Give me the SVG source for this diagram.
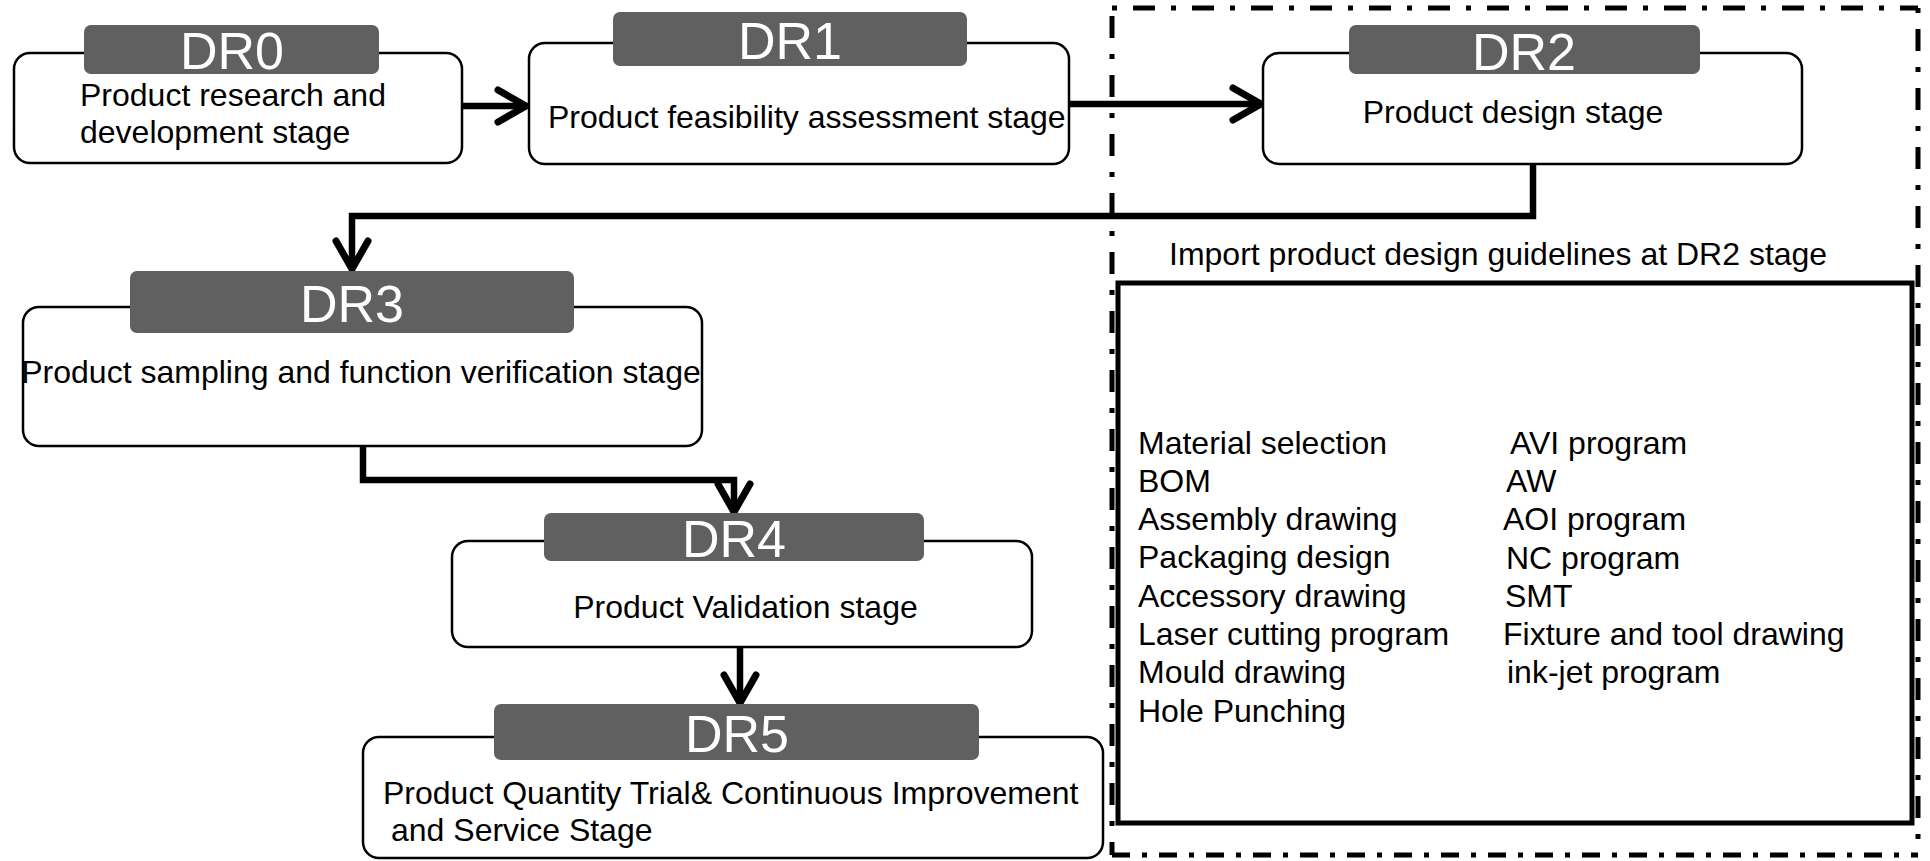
<svg xmlns="http://www.w3.org/2000/svg" width="1930" height="861" viewBox="0 0 1930 861">
<style>
.box{fill:#fff;stroke:#000;stroke-width:2.5}
.hdr{fill:#606060}
.lbl{font-family:"Liberation Sans",Arial,sans-serif;font-size:52px;fill:#fff;text-anchor:middle}
.t{font-family:"Liberation Sans",Arial,sans-serif;font-size:32px;fill:#000}
.mid{text-anchor:middle}
.conn{fill:none;stroke:#000;stroke-width:6.5;stroke-linejoin:miter}
.dd{fill:none;stroke:#000;stroke-width:5}
</style>
<defs>
<marker id="chev" markerUnits="userSpaceOnUse" markerWidth="40" markerHeight="40" viewBox="-34 -20 40 40" refX="0" refY="0" orient="auto" overflow="visible">
<path d="M-29,-16 L-1,0 L-29,16" fill="none" stroke="#000" stroke-width="7" stroke-linecap="round" stroke-linejoin="round"/>
</marker>
</defs>
<rect width="1930" height="861" fill="#fff"/>

<g id="dr2-frame">
<line class="dd" x1="1112" y1="8" x2="1918" y2="8" stroke-dasharray="5 16 22 16"/>
<line class="dd" x1="1918" y1="8" x2="1918" y2="855" stroke-dasharray="5 16 22 16"/>
<line class="dd" x1="1112" y1="8" x2="1112" y2="855" stroke-dasharray="22 16 5 16" stroke-dashoffset="-8"/>
<line class="dd" x1="1112" y1="855" x2="1918" y2="855" stroke-dasharray="18 12 5 12"/>
</g>

<g id="connectors">
<path class="conn" d="M462,106 L527,106" marker-end="url(#chev)"/>
<path class="conn" d="M1069,104 L1262,104" marker-end="url(#chev)"/>
<path class="conn" d="M1533,164 V216 H352 V270" marker-end="url(#chev)"/>
<path class="conn" d="M363,446 V480 H734 V513" marker-end="url(#chev)"/>
<path class="conn" d="M740,647 V704" marker-end="url(#chev)"/>
</g>

<g id="dr0">
<rect class="box" x="14" y="53" width="448" height="110" rx="16"/>
<rect class="hdr" x="84" y="25" width="295" height="49" rx="7"/>
<text class="lbl" x="232" y="69">DR0</text>
<text class="t" x="80" y="106">Product research and</text>
<text class="t" x="80" y="143">development stage</text>
</g>

<g id="dr1">
<rect class="box" x="529" y="43" width="540" height="121" rx="16"/>
<rect class="hdr" x="613" y="12" width="354" height="54" rx="7"/>
<text class="lbl" x="790" y="59">DR1</text>
<text class="t" x="548" y="128">Product feasibility assessment stage</text>
</g>

<g id="dr2">
<rect class="box" x="1263" y="53" width="539" height="111" rx="16"/>
<rect class="hdr" x="1349" y="25" width="351" height="49" rx="7"/>
<text class="lbl" x="1524" y="70">DR2</text>
<text class="t mid" x="1513" y="123">Product design stage</text>
</g>

<g id="dr3">
<rect class="box" x="23" y="307" width="679" height="139" rx="16"/>
<rect class="hdr" x="130" y="271" width="444" height="62" rx="7"/>
<text class="lbl" x="352" y="322">DR3</text>
<text class="t mid" x="361" y="383">Product sampling and function verification stage</text>
</g>

<g id="dr4">
<rect class="box" x="452" y="541" width="580" height="106" rx="16"/>
<rect class="hdr" x="544" y="513" width="380" height="48" rx="7"/>
<text class="lbl" x="734" y="557">DR4</text>
<text class="t mid" x="745.5" y="618">Product Validation stage</text>
</g>

<g id="dr5">
<rect class="box" x="363" y="737" width="740" height="121" rx="16"/>
<rect class="hdr" x="494" y="704" width="485" height="56" rx="7"/>
<text class="lbl" x="737" y="752">DR5</text>
<text class="t" x="383" y="804">Product Quantity Trial&amp; Continuous Improvement</text>
<text class="t" x="391" y="841">and Service Stage</text>
</g>

<g id="guidelines">
<text class="t" x="1169" y="265">Import product design guidelines at DR2 stage</text>
<rect x="1118" y="283" width="794" height="540" fill="none" stroke="#000" stroke-width="5"/>
<text class="t" x="1138" y="453.5">Material selection</text>
<text class="t" x="1138" y="491.8">BOM</text>
<text class="t" x="1138" y="530.1">Assembly drawing</text>
<text class="t" x="1138" y="568.4">Packaging design</text>
<text class="t" x="1138" y="606.7">Accessory drawing</text>
<text class="t" x="1138" y="645">Laser cutting program</text>
<text class="t" x="1138" y="683.3">Mould drawing</text>
<text class="t" x="1138" y="721.6">Hole Punching</text>
<text class="t" x="1510" y="454">AVI program</text>
<text class="t" x="1506" y="492">AW</text>
<text class="t" x="1503" y="530">AOI program</text>
<text class="t" x="1506" y="569">NC program</text>
<text class="t" x="1505" y="607">SMT</text>
<text class="t" x="1503" y="645">Fixture and tool drawing</text>
<text class="t" x="1507" y="683">ink-jet program</text>
</g>
</svg>
